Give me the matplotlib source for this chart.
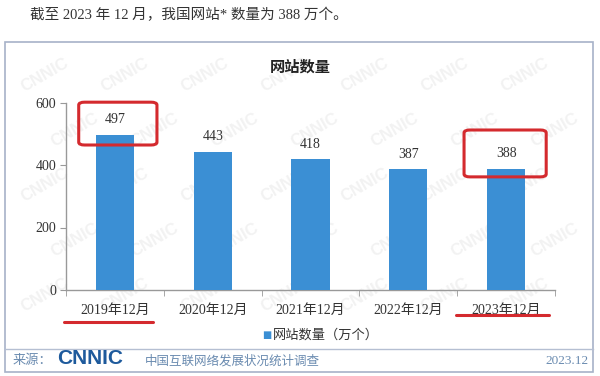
import matplotlib
matplotlib.use("Agg")
import matplotlib.pyplot as plt
from matplotlib.patches import Rectangle, FancyBboxPatch
from matplotlib.lines import Line2D

categories = ["2019年12月", "2020年12月", "2021年12月", "2022年12月", "2023年12月"]
values = [497, 443, 418, 387, 388]
yticks = [0, 200, 400, 600]
title = "网站数量"
legend_label = "网站数量（万个）"
headline = "截至 2023 年 12 月，我国网站* 数量为 388 万个。"
source_label = "来源："
source_name = "中国互联网络发展状况统计调查"
source_date = "2023.12"

FONT = ["Liberation Serif", "Noto Sans CJK SC"]
plt.rcParams["font.family"] = FONT

W, H = 600, 376
fig = plt.figure(figsize=(6, 3.76), dpi=100)
fig.patch.set_facecolor("white")

def fx(px):
    return px / W

def fy(py):
    return 1 - py / H

# faint watermark, kept inside the frame
for row in range(5):
    for col in range(7):
        px = 45 + col * 80 + (row % 2) * 30
        py = 75 + row * 55
        if px > 560:
            continue
        fig.text(fx(px), fy(py), "CNNIC", fontsize=12, fontweight="bold", color="#f2f2f2",
                 rotation=30, ha="center", va="center", family="Liberation Sans", zorder=0)

# frame
fig.add_artist(Rectangle((fx(5), fy(372)), fx(593) - fx(5), fy(42) - fy(372),
                         transform=fig.transFigure, fill=False, edgecolor="#a7b2c8", lw=1.2, zorder=1))
fig.add_artist(Line2D([fx(5), fx(593)], [fy(349), fy(349)], transform=fig.transFigure,
                      color="#b5bfd2", lw=1.0, zorder=1))

# headline
fig.text(fx(30), fy(15), headline, fontsize=10.5, color="#333333", ha="left", va="center")

ax = fig.add_axes([fx(66), fy(290), fx(555) - fx(66), fy(102.5) - fy(290)])
ax.set_facecolor("none")
ax.set_zorder(2)
x = list(range(len(categories)))
bars = ax.bar(x, values, width=0.39, color="#3b8fd4", zorder=3)
for xi, v in zip(x, values):
    ax.annotate(str(v), (xi, v), xytext=(0, 6), textcoords="offset points",
                ha="center", va="bottom", fontsize=10, color="#333333")

ax.set_xlim(-0.5, len(categories) - 0.5)
ax.set_ylim(0, 600)
ax.set_yticks(yticks)
ax.set_yticklabels([str(t) for t in yticks], fontsize=10, color="#333333")
ax.set_xticks(x)
ax.set_xticklabels(categories, fontsize=10, color="#333333")
ax.tick_params(axis="x", length=0, pad=10)
ax.set_xticks([i - 0.5 for i in range(len(categories) + 1)], minor=True)
ax.tick_params(axis="x", which="minor", length=4, color="#999999", direction="out")
ax.tick_params(axis="y", length=4, color="#999999", direction="out", pad=3)
for s in ["top", "right"]:
    ax.spines[s].set_visible(False)
for s in ["left", "bottom"]:
    ax.spines[s].set_color("#999999")
    ax.spines[s].set_linewidth(1.0)

fig.text(0.5, fy(67), title, fontsize=11, fontweight="bold", color="#222222", ha="center", va="center")

# legend
fig.text(fx(262), fy(335), "■", fontsize=7, color="#3b8fd4", ha="left", va="center",
         family=["DejaVu Sans"])
fig.text(fx(273), fy(335), legend_label, fontsize=9.5, color="#333333", ha="left", va="center")

# red highlight boxes
red = "#d42a2e"
for (x0, x1, y0, y1) in [(-0.37, 0.43, 464, 601), (3.57, 4.41, 362, 512)]:
    ax.add_patch(FancyBboxPatch((x0, y0), x1 - x0, y1 - y0,
                                boxstyle="round,pad=0,rounding_size=0.06",
                                mutation_aspect=150, fill=False, edgecolor=red, lw=2.2,
                                clip_on=False, zorder=5))
for (x0, x1, yy) in [(-0.52, 0.39, -103), (3.49, 4.44, -80)]:
    ax.plot([x0, x1], [yy, yy], color=red, lw=2.2, solid_capstyle="round", clip_on=False, zorder=5)

# footer
fig.text(fx(13), fy(361), source_label, fontsize=9.5, color="#6a8bb0", ha="left", va="center")
fig.text(fx(57), fy(359), "CNNIC", fontsize=15, fontweight="bold", color="#1e5a9c", ha="left",
         va="center", family="Liberation Sans")
fig.text(fx(145), fy(361), source_name, fontsize=9, color="#6a8bb0", ha="left", va="center")
fig.text(fx(589), fy(361), source_date, fontsize=9.5, color="#6a8bb0", ha="right", va="center")

fig.savefig("out.png", dpi=100, facecolor="white")
